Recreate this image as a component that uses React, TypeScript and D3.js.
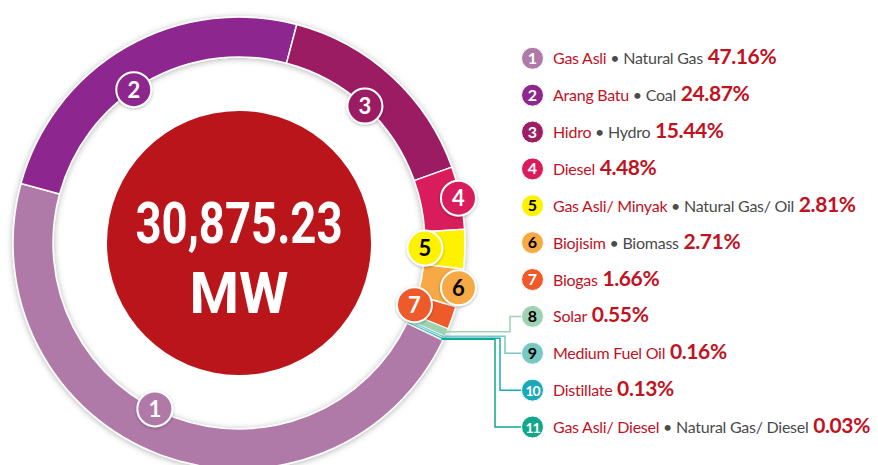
import React, { useEffect } from 'react';
import * as d3 from 'd3';

// fuel mix data
const ids = [1, 2, 3, 4, 5, 6, 7, 8, 9, 10, 11];
const malayNames = [
  'Gas Asli', 'Arang Batu', 'Hidro', 'Diesel', 'Gas Asli/ Minyak', 'Biojisim',
  'Biogas', 'Solar', 'Medium Fuel Oil', 'Distillate', 'Gas Asli/ Diesel',
];
const englishNames = [
  'Natural Gas', 'Coal', 'Hydro', '', 'Natural Gas/ Oil', 'Biomass',
  '', '', '', '', 'Natural Gas/ Diesel',
];
const shares = [47.16, 24.87, 15.44, 4.48, 2.81, 2.71, 1.66, 0.55, 0.16, 0.13, 0.03];
const totalLabel = '30,875.23';
const unitLabel = 'MW';

const colors = [
  '#b07aa8', '#8e288f', '#9c1f63', '#d91d5c', '#fff200', '#f7a944',
  '#ef5a2a', '#9dd3b2', '#78c9c4', '#1aa9b9', '#13a68b',
];
const badgeTextColors = ['#fff', '#fff', '#fff', '#fff', '#000', '#000', '#fff', '#000', '#000', '#fff', '#fff'];

const W = 878;
const H = 465;
const cx = 239;
const cy = 243;
const rInner = 186;
const rOuter = 226;
const RED = '#c1121f';
const GREY = '#4b4b4b';

// which ring badges sit on the inner / outer edge (items 8-11 use leader lines)
const ringBadge: Record<number, 'in' | 'out'> = { 1: 'in', 2: 'in', 3: 'in', 4: 'out', 5: 'in', 6: 'out', 7: 'in' };
// small angular nudges (degrees) for the two big slices' badges
const badgeNudge: Record<number, number> = { 1: 6.5, 2: -4.5 };

const App: React.FC = () => {
  useEffect(() => {
    document.body.style.margin = '0';
  }, []);

  const start = (115.5 * Math.PI) / 180;
  const pie = d3.pie<number>().sort(null).value((d) => d).startAngle(start).endAngle(start + 2 * Math.PI);
  const arcs = pie(shares);
  const arc = d3.arc<d3.PieArcDatum<number>>().innerRadius(rInner).outerRadius(rOuter);

  const rowY = d3.scalePoint<number>().domain(ids).range([58.3, 427]);
  const polar = (a: number, r: number) => [cx + r * Math.sin(a), cy - r * Math.cos(a)];

  return (
    <svg width={W} height={H} style={{ display: 'block' }} fontFamily="Lato, 'Open Sans', sans-serif">
      <defs>
        <filter id="sh" x="-20%" y="-20%" width="140%" height="140%">
          <feDropShadow dx="0" dy="1" stdDeviation="3" floodColor="#000" floodOpacity="0.3" />
        </filter>
        <filter id="bsh" x="-40%" y="-40%" width="180%" height="180%">
          <feDropShadow dx="0" dy="1" stdDeviation="1.5" floodColor="#000" floodOpacity="0.3" />
        </filter>
      </defs>

      {/* ring */}
      <g transform={`translate(${cx},${cy})`} filter="url(#sh)">
        {arcs.map((a, i) => (
          <path key={i} d={arc(a) || ''} fill={colors[i]} stroke="#fff" strokeWidth={i >= 7 ? 0.6 : 1.5} />
        ))}
      </g>

      {/* leader lines for the thin slices */}
      {arcs.slice(7).map((a, k) => {
        const i = k + 7;
        const mid = (a.startAngle + a.endAngle) / 2;
        const [x0, y0] = polar(mid, rOuter - 2);
        const elbow = 510 - k * 5;
        const y1 = rowY(ids[i]) || 0;
        return (
          <path
            key={i}
            d={`M${x0},${y0}H${elbow}V${y1}H${524}`}
            fill="none"
            stroke={colors[i]}
            strokeWidth={1.5}
          />
        );
      })}

      {/* centre total */}
      <circle cx={cx} cy={cy} r={132} fill="#b9151b" />
      <text x={cx} y={243} textAnchor="middle" fill="#fff" fontFamily="Roboto, sans-serif" fontWeight={700}
        fontSize={58} textLength={207} lengthAdjust="spacingAndGlyphs">{totalLabel}</text>
      <text x={cx} y={313} textAnchor="middle" fill="#fff" fontFamily="Roboto, sans-serif" fontWeight={700}
        fontSize={58} textLength={99} lengthAdjust="spacingAndGlyphs">{unitLabel}</text>

      {/* ring badges */}
      {arcs.slice(0, 7).map((a, i) => {
        const mid = (a.startAngle + a.endAngle) / 2 + ((badgeNudge[ids[i]] || 0) * Math.PI) / 180;
        const [bx, by] = polar(mid, ringBadge[ids[i]] === 'out' ? 224 : 186);
        return (
          <g key={i} transform={`translate(${bx},${by})`}>
            <circle r={17.5} fill={colors[i]} stroke="#fff" strokeWidth={2} filter="url(#bsh)" />
            <text y={8} textAnchor="middle" fontSize={22} fontWeight={700} fill={badgeTextColors[i]}>{ids[i]}</text>
          </g>
        );
      })}

      {/* legend */}
      {ids.map((id, i) => {
        const y = rowY(id) || 0;
        return (
          <g key={id}>
            <circle cx={532.5} cy={y} r={11} fill={colors[i]} stroke="#fff" strokeWidth={1} />
            <text x={532.5} y={y + 5.5} textAnchor="middle" fontSize={id >= 10 ? 14 : 16} fontWeight={700}
              letterSpacing={id >= 10 ? -1.2 : 0} fill={badgeTextColors[i]}>{id}</text>
            <text x={553} y={y + 6} fontSize={16} letterSpacing={-0.25}>
              <tspan fill={RED}>{malayNames[i]}</tspan>
              {englishNames[i] && <tspan fill={GREY}> • {englishNames[i]}</tspan>}
              <tspan fill={RED} fontWeight={700} fontSize={21} letterSpacing={-0.4}> {shares[i].toFixed(2)}%</tspan>
            </text>
          </g>
        );
      })}
    </svg>
  );
};

export default App;
